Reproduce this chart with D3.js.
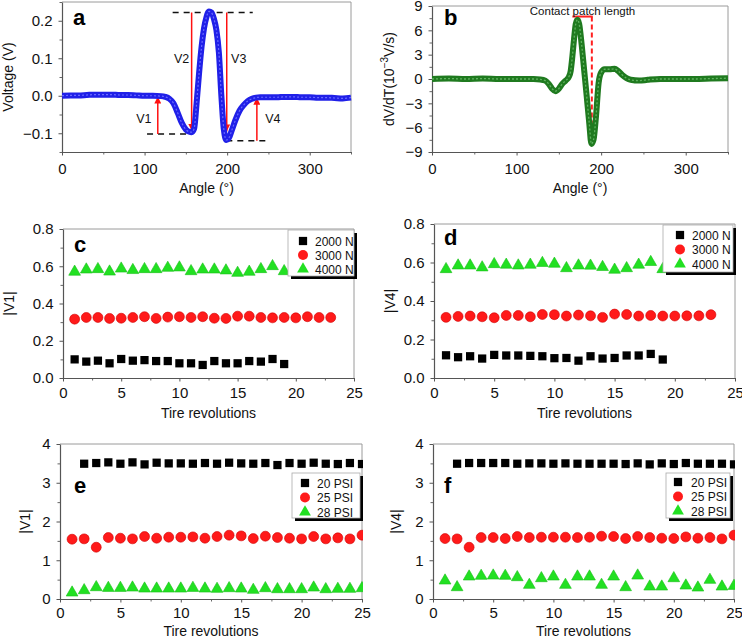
<!DOCTYPE html>
<html><head><meta charset="utf-8">
<script src="https://cdn.jsdelivr.net/npm/d3@7"></script>
<style>
body{margin:0;background:#fff}
text{font-family:"Liberation Sans",Arial,Helvetica,sans-serif}
</style>
</head><body>
<svg id="fig" width="742" height="639"></svg>
<script>
// ---------- data ----------
// panel a: voltage vs angle
const aAngle = [0,10,20,30,40,50,60,70,80,90,100,110,120,125,130,135,140,145,150,154,157,160,163,166,169,172,175,178,181,184,187,190,193,196,199,202,206,210,215,220,225,230,235,240,250,260,270,280,290,300,310,320,330,340,350];
const aVolt = [0,0.001,0.001,0.002,0.003,0.003,0.003,0.002,0.002,0.001,0,0,-0.001,-0.003,-0.008,-0.02,-0.045,-0.072,-0.09,-0.096,-0.097,-0.088,-0.02,0.06,0.13,0.18,0.21,0.225,0.222,0.205,0.175,0.115,0.0,-0.09,-0.118,-0.113,-0.09,-0.065,-0.04,-0.025,-0.014,-0.008,-0.005,-0.004,-0.004,-0.004,-0.003,-0.003,-0.004,-0.004,-0.005,-0.005,-0.006,-0.007,-0.005];
// panel a annotations
const aArrowLabels = ["V1","V2","V3","V4"];
const aArrowX = [116,157,199.5,236];
const aArrowFrom = [-0.102,0.222,0.222,-0.12];
const aArrowTo = [-0.002,-0.093,-0.095,-0.005];
const aDashX0 = [134,103,199];
const aDashX1 = [231,155,250];
const aDashY = [0.222,-0.102,-0.12];

// panel b: derivative vs angle
const bAngle = [0,20,40,60,80,100,120,128,134,138,142,146,150,154,158,162,164,166,168,170,172,174,177,180,183,186,188.5,191,194,197,200,204,210,216,220,225,230,235,245,255,270,290,310,330,350];
const bRate = [0,0.05,0,0.05,0,0,0,-0.05,-0.2,-0.6,-1.2,-1.5,-1.2,-0.6,-0.2,0.3,1.0,2.8,5.0,6.8,7.3,6.8,4.2,1.0,-2.2,-5.5,-8.0,-7.5,-4.5,-0.5,0.8,1.2,1.2,1.25,1.0,0.5,0.1,-0.1,-0.2,-0.1,0,0,0,0.05,0.1];
const bPatchStart = 166, bPatchEnd = 190, bPatchLevel = 7.7, bPatchBottom = -6.3;

// panels c-f: tire revolutions
const revs = d3.range(1, 26);
const c2000 = [0.100,0.088,0.093,0.079,0.102,0.093,0.096,0.091,0.091,0.079,0.079,0.070,0.091,0.079,0.079,0.091,0.088,0.102,0.075];
const c3000 = [0.316,0.325,0.325,0.320,0.321,0.325,0.329,0.320,0.327,0.329,0.325,0.329,0.321,0.320,0.332,0.332,0.325,0.323,0.325,0.323,0.329,0.325,0.325];
const c4000 = [0.570,0.582,0.584,0.571,0.587,0.579,0.584,0.584,0.591,0.593,0.573,0.582,0.582,0.577,0.564,0.570,0.584,0.600,0.573];
const d2000 = [0.118,0.108,0.113,0.101,0.120,0.117,0.117,0.115,0.113,0.103,0.104,0.090,0.113,0.101,0.104,0.117,0.117,0.125,0.096];
const d3000 = [0.315,0.320,0.322,0.318,0.313,0.325,0.325,0.318,0.330,0.329,0.322,0.327,0.323,0.315,0.332,0.330,0.322,0.325,0.322,0.322,0.323,0.323,0.329];
const d4000 = [0.565,0.584,0.584,0.574,0.591,0.588,0.584,0.588,0.597,0.593,0.570,0.584,0.583,0.576,0.562,0.570,0.588,0.602,0.565];
const e20 = [3.491,3.509,3.526,3.491,3.526,3.474,3.517,3.500,3.500,3.491,3.509,3.491,3.517,3.500,3.491,3.509,3.457,3.509,3.491,3.517,3.491,3.483,3.509,3.483]; // revs 2..25
const e25 = [1.543,1.552,1.336,1.586,1.569,1.552,1.612,1.569,1.595,1.595,1.603,1.569,1.612,1.647,1.629,1.560,1.621,1.586,1.569,1.552,1.612,1.552,1.578,1.552,1.647];
const e28 = [0.164,0.224,0.302,0.284,0.284,0.293,0.267,0.267,0.267,0.267,0.284,0.267,0.259,0.276,0.267,0.233,0.276,0.250,0.250,0.250,0.293,0.250,0.259,0.259,0.276];
const f20 = [3.491,3.509,3.509,3.509,3.509,3.491,3.500,3.500,3.491,3.500,3.491,3.491,3.491,3.491,3.483,3.500,3.474,3.500,3.483,3.509,3.491,3.491,3.491,3.474]; // revs 2..25
const f25 = [1.560,1.552,1.336,1.586,1.586,1.560,1.612,1.586,1.595,1.595,1.595,1.586,1.595,1.621,1.612,1.560,1.612,1.586,1.569,1.560,1.603,1.569,1.586,1.552,1.647];
const f28 = [0.474,0.302,0.578,0.595,0.603,0.595,0.560,0.362,0.534,0.578,0.362,0.578,0.578,0.362,0.578,0.302,0.603,0.319,0.319,0.534,0.345,0.293,0.491,0.319,0.336];

const loadLabels = ["2000 N","3000 N","4000 N"];
const psiLabels = ["20 PSI","25 PSI","28 PSI"];

// ---------- drawing ----------
const svg = d3.select("#fig");
const defs = svg.append("defs");
defs.append("marker").attr("id","arrow").attr("viewBox","0 0 10 10")
  .attr("refX",10).attr("refY",5).attr("markerWidth",7).attr("markerHeight",7)
  .attr("markerUnits","userSpaceOnUse").attr("orient","auto")
  .append("path").attr("d","M0,0L10,5L0,10Z").attr("fill","#ff1010");

const fmtMinus = f => (v => f(v).replace("-", "\u2212"));
let clipId = 0;

function panel(o) {
  const x = d3.scaleLinear().domain(o.xd).range([o.l, o.r]);
  const y = d3.scaleLinear().domain(o.yd).range([o.b, o.t]);
  const g = svg.append("g");
  // light top/right frame
  g.append("path").attr("d", `M${o.l},${o.t}H${o.r}V${o.b}`)
    .attr("fill","none").attr("stroke","#9a9a9a").attr("stroke-width",1);
  // minor ticks
  g.append("g").attr("transform",`translate(0,${o.b})`)
    .call(d3.axisBottom(x).tickValues(o.xm).tickFormat("").tickSize(2.5).tickSizeOuter(0))
    .call(s => s.select(".domain").remove()).selectAll("line").attr("stroke","#666");
  g.append("g").attr("transform",`translate(${o.l},0)`)
    .call(d3.axisLeft(y).tickValues(o.ym).tickFormat("").tickSize(2.5).tickSizeOuter(0))
    .call(s => s.select(".domain").remove()).selectAll("line").attr("stroke","#666");
  // major axes
  const xa = g.append("g").attr("transform",`translate(0,${o.b})`)
    .call(d3.axisBottom(x).tickValues(o.xt).tickFormat(o.xf).tickSize(3.5).tickSizeOuter(0).tickPadding(o.xPad));
  const ya = g.append("g").attr("transform",`translate(${o.l},0)`)
    .call(d3.axisLeft(y).tickValues(o.yt).tickFormat(o.yf).tickSize(3.5).tickSizeOuter(0).tickPadding(6));
  [xa, ya].forEach(a => {
    a.select(".domain").attr("stroke","#555").attr("stroke-width",1.2);
    a.selectAll("line").attr("stroke","#555");
    a.selectAll("text").attr("font-size",15).attr("fill","#111")
      .attr("font-family",'"Liberation Sans",Arial,sans-serif');
  });
  // axis titles
  g.append("text").attr("x",(o.l+o.r)/2).attr("y",o.xTitleY).attr("text-anchor","middle")
    .attr("font-size",14).attr("fill","#111").text(o.xTitle);
  const yt = g.append("text").attr("transform",`translate(${o.yTitleX},${(o.t+o.b)/2}) rotate(-90)`)
    .attr("text-anchor","middle").attr("font-size",14).attr("fill","#111");
  if (typeof o.yTitle === "function") o.yTitle(yt); else yt.text(o.yTitle);
  // clip
  const id = "clip" + (clipId++);
  defs.append("clipPath").attr("id",id).append("rect")
    .attr("x",o.l).attr("y",o.t-1).attr("width",o.r-o.l+1).attr("height",o.b-o.t+1);
  const plot = svg.append("g").attr("clip-path",`url(#${id})`);
  return {x, y, g, plot, o};
}

function panelLabel(txt, px, py) {
  svg.append("text").attr("x",px).attr("y",py).attr("font-size",22)
    .attr("font-weight","bold").attr("fill","#000").text(txt);
}

// ---- panel a ----
const A = panel({l:62,r:351,t:2,b:152,xd:[0,350],yd:[-0.15,0.25],
  xt:[0,100,200,300], xm:[50,150,250,350], xf:d3.format("d"), xPad:8,
  yt:[-0.1,0,0.1,0.2], ym:[-0.15,-0.05,0.05,0.15,0.25], yf:fmtMinus(d3.format(".1f")),
  xTitle:"Angle (°)", xTitleY:193, yTitle:"Voltage (V)", yTitleX:13});
const lineA = d3.line().x((d,i)=>A.x(aAngle[i])).y(d=>A.y(d)).curve(d3.curveMonotoneX);
A.plot.append("path").datum(aVolt).attr("d",lineA).attr("fill","none")
  .attr("stroke","#2020e8").attr("stroke-width",6).attr("stroke-linejoin","round");
A.plot.append("path").datum(aVolt).attr("d",lineA).attr("fill","none")
  .attr("stroke","#6a6aff").attr("stroke-width",1.2).attr("stroke-dasharray","2,2");
aDashY.forEach((v,i) => {
  A.g.append("line").attr("x1",A.x(aDashX0[i])).attr("x2",A.x(aDashX1[i]))
    .attr("y1",A.y(v)).attr("y2",A.y(v)).attr("stroke","#111").attr("stroke-width",1.5)
    .attr("stroke-dasharray","6,5");
});
aArrowX.forEach((ax,i) => {
  A.g.append("line").attr("x1",A.x(ax)).attr("x2",A.x(ax))
    .attr("y1",A.y(aArrowFrom[i])).attr("y2",A.y(aArrowTo[i]))
    .attr("stroke","#ff1010").attr("stroke-width",1.5).attr("marker-end","url(#arrow)");
});
const aLabOffset = [-14,-10,12,16];
const aLabY = [-0.062,0.098,0.098,-0.062];
aArrowLabels.forEach((t,i) => {
  A.g.append("text").attr("x",A.x(aArrowX[i])+aLabOffset[i]).attr("y",A.y(aLabY[i])+4)
    .attr("text-anchor","middle").attr("font-size",12.5).attr("fill","#111").text(t);
});
panelLabel("a",73,25);

// ---- panel b ----
const B = panel({l:432,r:728,t:6,b:152,xd:[0,350],yd:[-9,9],
  xt:[0,100,200,300], xm:[50,150,250,350], xf:d3.format("d"), xPad:8,
  yt:[-9,-6,-3,0,3,6,9], ym:[-7.5,-4.5,-1.5,1.5,4.5,7.5], yf:fmtMinus(d3.format("d")),
  xTitle:"Angle (°)", xTitleY:193, yTitleX:394,
  yTitle: t => { t.append("tspan").text("dV/dT(10");
    t.append("tspan").attr("font-size",10).attr("dy",-6).text("\u22123");
    t.append("tspan").attr("dy",6).text("V/s)"); }});
const lineB = d3.line().x((d,i)=>B.x(bAngle[i])).y(d=>B.y(d)).curve(d3.curveMonotoneX);
B.plot.append("path").datum(bRate).attr("d",lineB).attr("fill","none")
  .attr("stroke","#1f7a1f").attr("stroke-width",6).attr("stroke-linejoin","round");
B.plot.append("path").datum(bRate).attr("d",lineB).attr("fill","none")
  .attr("stroke","#5fb25f").attr("stroke-width",1.3).attr("stroke-dasharray","2,2");
B.g.append("line").attr("x1",B.x(bPatchStart)).attr("x2",B.x(bPatchEnd))
  .attr("y1",B.y(bPatchLevel)).attr("y2",B.y(bPatchLevel))
  .attr("stroke","#ff2020").attr("stroke-width",2);
B.g.append("line").attr("x1",B.x(bPatchEnd-1)).attr("x2",B.x(bPatchEnd-1))
  .attr("y1",B.y(bPatchLevel)).attr("y2",B.y(bPatchBottom))
  .attr("stroke","#ff2020").attr("stroke-width",2).attr("stroke-dasharray","5,3");
B.g.append("text").attr("x",B.x(178)).attr("y",15).attr("text-anchor","middle")
  .attr("font-size",11.5).attr("fill","#111").text("Contact patch length");
panelLabel("b",444,25);

// ---- scatter panels ----
const colors = {sq:"#000000", ci:"#ff1a1a", tr:"#22e022"};
const sym = {sq:d3.symbol().type(d3.symbolSquare).size(68),
             ci:d3.symbol().type(d3.symbolCircle).size(78),
             tr:d3.symbol().type(d3.symbolTriangle).size(60)};
function scatter(P, xs, ys, kind) {
  P.plot.append("g").selectAll("path").data(ys).join("path")
    .attr("transform",(d,i)=>`translate(${P.x(xs[i])},${P.y(d)})`)
    .attr("d",sym[kind]()).attr("fill",colors[kind])
    .attr("stroke", kind==="ci" ? "#d00000" : kind==="tr" ? "#19c019" : "none").attr("stroke-width",0.6);
}
function legend(L, labels) {
  const g = svg.append("g");
  g.append("rect").attr("x",L.x+3).attr("y",L.y+3).attr("width",L.w).attr("height",L.h).attr("fill","#000");
  g.append("rect").attr("x",L.x).attr("y",L.y).attr("width",L.w).attr("height",L.h)
    .attr("fill","#fff").attr("stroke","#aaa").attr("stroke-width",0.8);
  ["sq","ci","tr"].forEach((k,i) => {
    const yy = L.y + L.r0 + i*L.dy;
    g.append("path").attr("transform",`translate(${L.x+L.mx},${yy})`).attr("d",sym[k]())
      .attr("fill",colors[k]);
    g.append("text").attr("x",L.x+L.tx).attr("y",yy+4.5).attr("font-size",12).attr("fill","#111").text(labels[i]);
  });
}

const scatterCommon = {xd:[0,25], xt:[0,5,10,15,20,25], xm:[2.5,7.5,12.5,17.5,22.5], xf:d3.format("d"),
  xTitle:"Tire revolutions"};
// c
const C = panel(Object.assign({}, scatterCommon, {l:63,r:354,t:229,b:378,yd:[0,0.8],
  yt:[0,0.2,0.4,0.6,0.8], ym:[0.1,0.3,0.5,0.7], yf:d3.format(".1f"), xPad:6,
  xTitleY:418, yTitle:"|V1|", yTitleX:14}));
scatter(C, revs, c2000, "sq"); scatter(C, revs, c3000, "ci"); scatter(C, revs, c4000, "tr");
legend({x:288,y:230,w:66,h:46,r0:11,dy:14,mx:15,tx:27}, loadLabels);
panelLabel("c",74,252);
// d
const D = panel(Object.assign({}, scatterCommon, {l:434,r:735,t:224,b:378,yd:[0,0.8],
  yt:[0,0.2,0.4,0.6,0.8], ym:[0.1,0.3,0.5,0.7], yf:d3.format(".1f"), xPad:6,
  xTitleY:418, yTitle:"|V4|", yTitleX:395}));
scatter(D, revs, d2000, "sq"); scatter(D, revs, d3000, "ci"); scatter(D, revs, d4000, "tr");
legend({x:663,y:225,w:70,h:47,r0:10,dy:14.5,mx:17,tx:29}, loadLabels);
panelLabel("d",444,245);
// e
const revs2 = revs.slice(1);
const E = panel(Object.assign({}, scatterCommon, {l:60,r:362,t:444,b:599,yd:[0,4],
  yt:[0,1,2,3,4], ym:[0.5,1.5,2.5,3.5], yf:d3.format("d"), xPad:4.5,
  xTitleY:636, yTitle:"|V1|", yTitleX:30}));
scatter(E, revs2, e20, "sq"); scatter(E, revs, e25, "ci"); scatter(E, revs, e28, "tr");
legend({x:292,y:473,w:68,h:45,r0:10,dy:14.5,mx:13,tx:25}, psiLabels);
panelLabel("e",74,493);
// f
const F = panel(Object.assign({}, scatterCommon, {l:433,r:734,t:444,b:599,yd:[0,4],
  yt:[0,1,2,3,4], ym:[0.5,1.5,2.5,3.5], yf:d3.format("d"), xPad:4.5,
  xTitleY:636, yTitle:"|V4|", yTitleX:401}));
scatter(F, revs2, f20, "sq"); scatter(F, revs, f25, "ci"); scatter(F, revs, f28, "tr");
legend({x:666,y:473,w:64,h:45,r0:9,dy:14.5,mx:12,tx:25}, psiLabels);
panelLabel("f",444,493);
</script>
</body></html>
